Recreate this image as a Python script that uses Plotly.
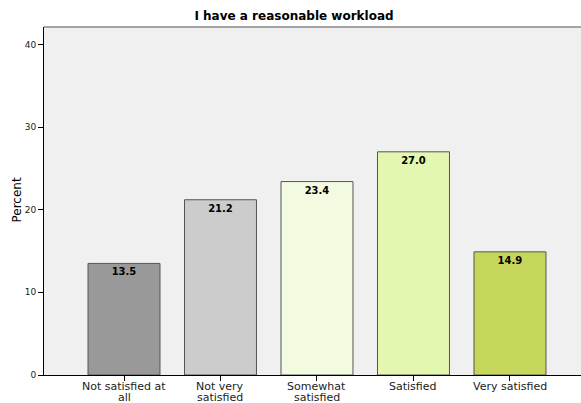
import plotly.graph_objects as go

categories = ["Not satisfied at<br>all", "Not very<br>satisfied", "Somewhat<br>satisfied", "Satisfied", "Very satisfied"]
values = [13.5, 21.2, 23.4, 27.0, 14.9]
colors = ["#999999", "#cccccc", "#f2fadf", "#e3f7b0", "#c6d65a"]
y_ticks = [0, 10, 20, 30, 40]

W, H = 581, 403
L, R, T, B = 44, 0, 27, 28
plot_w = W - L - R
plot_h = H - T - B

fig = go.Figure(go.Bar(
    x=list(range(len(categories))),
    y=values,
    width=0.746,
    marker=dict(color=colors, line=dict(color="#555555", width=1)),
    text=[f"{v:.1f}" for v in values],
    textposition="inside",
    insidetextanchor="end",
    textangle=0,
    textfont=dict(family="DejaVu Sans", size=10, color="black", weight="bold"),
    constraintext="none",
))

fig.update_layout(
    width=W, height=H,
    margin=dict(l=L, r=R, t=T, b=B, autoexpand=False),
    paper_bgcolor="white",
    plot_bgcolor="#f0f0f0",
    showlegend=False,
    title=dict(text="<b>I have a reasonable workload</b>", x=294 / W, xanchor="center",
               y=1 - 16/H, yanchor="middle",
               font=dict(family="DejaVu Sans", size=12, color="black")),
    font=dict(family="DejaVu Sans", size=11, color="#222222"),
)
fig.update_xaxes(
    range=[-0.829, 4.736],
    tickvals=list(range(len(categories))),
    ticktext=[""] * len(categories),
    ticks="outside", ticklen=5, tickcolor="black",
    showline=True, linecolor="black", linewidth=1,
    showgrid=False, zeroline=False, automargin=False,
)
fig.update_yaxes(
    range=[0, 42.1],
    tickvals=y_ticks,
    ticks="outside", ticklen=5, tickcolor="black",
    showline=True, linecolor="black", linewidth=1,
    showgrid=False, zeroline=False, automargin=False,
    tickfont=dict(size=9, color="#222222"),
)
# y-axis title
fig.add_annotation(
    x=(16.5 - L) / plot_w, xref="paper", y=(H - B - 200) / plot_h, yref="paper",
    text="Percent", textangle=-90, showarrow=False, xanchor="center", yanchor="middle",
    font=dict(family="DejaVu Sans", size=12, color="black"),
)
# top border of plot area
fig.add_shape(type="line", xref="paper", yref="paper", x0=0, x1=1, y0=1, y1=1,
              line=dict(color="#888888", width=1.5))

# category labels with tight line spacing
line_y = [386, 397]
for i, cat in enumerate(categories):
    for j, part in enumerate(cat.split("<br>")):
        fig.add_annotation(
            x=i, xref="x", y=-(line_y[j] - (H - B)) / plot_h, yref="paper",
            text=part, showarrow=False, xanchor="center", yanchor="middle",
            borderpad=0,
            font=dict(family="DejaVu Sans", size=11, color="#222222"),
        )

fig.write_html(
    "out.html",
    config={"displayModeBar": False},
    post_script="document.body.style.margin='0';document.body.style.overflow='hidden';",
)
